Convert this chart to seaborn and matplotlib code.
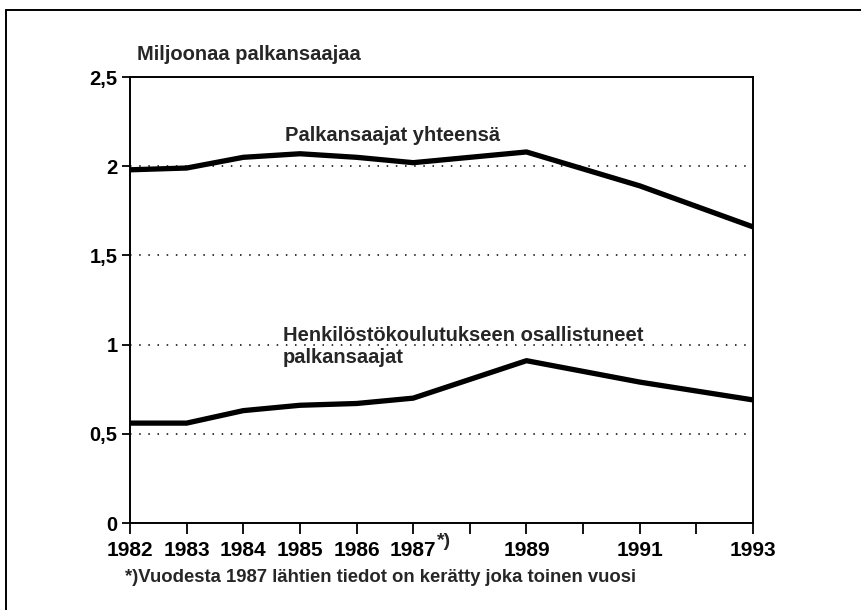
import pandas as pd
import seaborn as sns
import matplotlib.pyplot as plt
from matplotlib.lines import Line2D

sns.set_style("white")
plt.rcParams['font.family'] = ['Liberation Sans', 'DejaVu Sans']
plt.rcParams['font.weight'] = 'bold'

# data (millions of wage earners)
years = [1982, 1983, 1984, 1985, 1986, 1987, 1989, 1991, 1993]
total = [1.98, 1.99, 2.05, 2.07, 2.05, 2.02, 2.08, 1.89, 1.66]
trained = [0.56, 0.56, 0.63, 0.66, 0.67, 0.70, 0.91, 0.79, 0.69]
tick_years = list(range(1982, 1994))
tick_labels = ["1982", "1983", "1984", "1985", "1986", "1987", "",
               "1989", "", "1991", "", "1993"]
y_ticks = [0, 0.5, 1, 1.5, 2, 2.5]
y_labels = ["0", "0,5", "1", "1,5", "2", "2,5"]

df = pd.DataFrame({"vuosi": years * 2,
                   "arvo": total + trained,
                   "sarja": ["yht"] * len(years) + ["koul"] * len(years)})

fig = plt.figure(figsize=(8.62, 6.10), dpi=100)
ax = fig.add_axes([0.1508, 0.1426, 0.7228, 0.7311])

sns.lineplot(data=df, x="vuosi", y="arvo", units="sarja", estimator=None,
             color="black", lw=3.8, ax=ax, legend=False)

ax.set_xlim(1982, 1993)
ax.set_ylim(0, 2.5)
ax.set_xticks(tick_years)
ax.set_xticklabels(tick_labels)
ax.set_yticks(y_ticks)
ax.set_yticklabels(y_labels)
ax.set_xlabel("")
ax.set_ylabel("")
ax.tick_params(axis="x", direction="out", length=8, width=1.3, pad=5,
               labelsize=15, bottom=True, colors="black")
ax.tick_params(axis="y", direction="out", length=6, width=1.3, pad=3,
               labelsize=14.5, left=True, colors="black")
for s in ax.spines.values():
    s.set_color("black")
    s.set_linewidth(1.4)

for yv in [0.5, 1, 1.5, 2]:
    ax.axhline(yv, color="black", lw=1.1, ls=(0, (1, 5)), zorder=0)

ax.text(1984.74, 2.175, "Palkansaajat yhteensä", fontsize=14.5,
        fontweight="bold", ha="left", va="center")
ax.text(1984.7, 0.99, "Henkilöstökoulutukseen osallistuneet\npalkansaajat",
        fontsize=14.5, fontweight="bold", ha="left", va="center",
        linespacing=1.25)
ax.annotate("*)", xy=(1987, 0), xycoords="data", xytext=(17, -13),
            textcoords="offset points", fontsize=14, fontweight="bold",
            ha="left", va="center")

fig.text(0.159, 0.91, "Miljoonaa palkansaajaa", fontsize=14.5,
         fontweight="bold", ha="left", va="center")
fig.text(0.145, 0.054, "*)Vuodesta 1987 lähtien tiedot on kerätty joka toinen vuosi",
         fontsize=13.3, fontweight="bold", ha="left", va="center")

# outer frame
fig.add_artist(Line2D([6 / 862, 6 / 862], [0, 1 - 10 / 610],
                      color="black", lw=1.4))
fig.add_artist(Line2D([6 / 862, 1], [1 - 10 / 610, 1 - 10 / 610],
                      color="black", lw=1.4))

fig.savefig("out.png", dpi=100)
